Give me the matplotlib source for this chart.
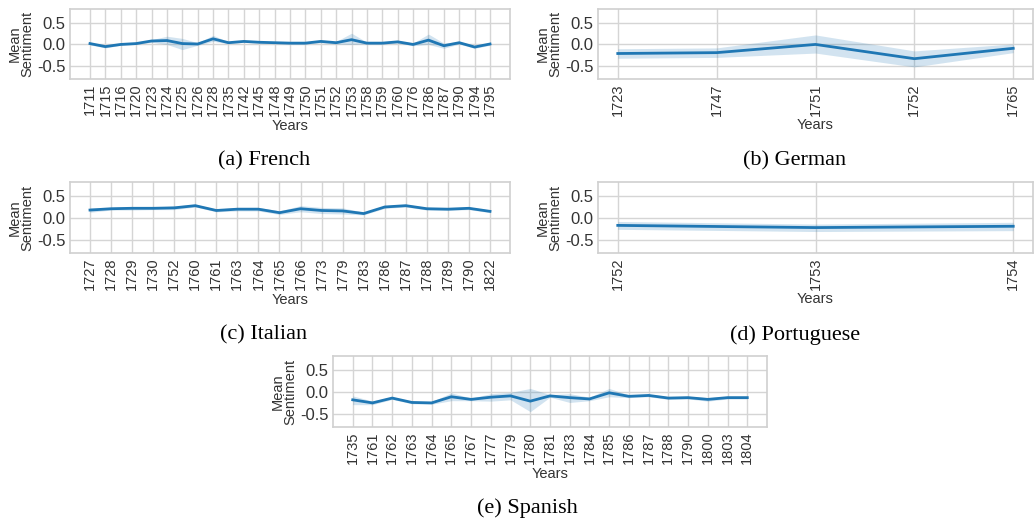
import matplotlib
matplotlib.use("Agg")
import matplotlib.pyplot as plt
import numpy as np

plt.rcParams["font.family"] = ["Liberation Sans", "DejaVu Sans"]

# French
fr_years = ["1711", "1715", "1716", "1720", "1723", "1724", "1725", "1726", "1728",
            "1735", "1742", "1745", "1748", "1749", "1750", "1751", "1752", "1753",
            "1758", "1759", "1760", "1776", "1786", "1787", "1790", "1794", "1795"]
fr_mean = [0.02, -0.05, 0.00, 0.02, 0.08, 0.09, 0.02, 0.01, 0.13,
           0.04, 0.07, 0.05, 0.04, 0.03, 0.03, 0.07, 0.04, 0.11,
           0.03, 0.03, 0.06, 0.00, 0.10, -0.03, 0.04, -0.06, 0.01]
fr_lo = [-0.01, -0.08, -0.02, 0.00, 0.05, 0.00, -0.12, -0.02, 0.07,
         0.02, 0.05, 0.03, 0.02, 0.01, 0.01, 0.04, 0.01, 0.00,
         0.01, 0.01, 0.03, -0.03, 0.00, -0.09, 0.01, -0.09, -0.02]
fr_hi = [0.04, -0.02, 0.02, 0.04, 0.11, 0.19, 0.14, 0.04, 0.21,
         0.06, 0.09, 0.07, 0.06, 0.05, 0.05, 0.10, 0.07, 0.26,
         0.05, 0.05, 0.09, 0.03, 0.24, 0.03, 0.07, -0.03, 0.04]

# German
de_years = ["1723", "1747", "1751", "1752", "1765"]
de_mean = [-0.21, -0.19, 0.00, -0.33, -0.09]
de_lo = [-0.32, -0.30, -0.20, -0.52, -0.19]
de_hi = [-0.10, -0.08, 0.22, -0.15, 0.01]

# Italian
it_years = ["1727", "1728", "1729", "1730", "1752", "1760", "1761", "1763", "1764",
            "1765", "1766", "1773", "1779", "1783", "1786", "1787", "1788", "1789",
            "1790", "1822"]
it_mean = [0.18, 0.21, 0.22, 0.22, 0.23, 0.28, 0.17, 0.20, 0.20,
           0.12, 0.21, 0.17, 0.16, 0.10, 0.25, 0.28, 0.21, 0.20,
           0.22, 0.15]
it_lo = [0.13, 0.18, 0.18, 0.19, 0.19, 0.25, 0.14, 0.16, 0.16,
         0.08, 0.14, 0.10, 0.09, 0.07, 0.22, 0.25, 0.18, 0.17,
         0.19, 0.12]
it_hi = [0.23, 0.24, 0.26, 0.25, 0.27, 0.31, 0.20, 0.24, 0.24,
         0.16, 0.28, 0.24, 0.23, 0.13, 0.28, 0.31, 0.24, 0.23,
         0.25, 0.18]

# Portuguese
pt_years = ["1752", "1753", "1754"]
pt_mean = [-0.17, -0.22, -0.19]
pt_lo = [-0.26, -0.31, -0.29]
pt_hi = [-0.08, -0.14, -0.10]

# Spanish
es_years = ["1735", "1761", "1762", "1763", "1764", "1765", "1767", "1777", "1779",
            "1780", "1781", "1783", "1784", "1785", "1786", "1787", "1788", "1790",
            "1800", "1803", "1804"]
es_mean = [-0.18, -0.25, -0.14, -0.24, -0.25, -0.11, -0.17, -0.12, -0.09,
           -0.21, -0.09, -0.13, -0.16, -0.02, -0.10, -0.08, -0.14, -0.13,
           -0.17, -0.13, -0.13]
es_lo = [-0.29, -0.29, -0.17, -0.27, -0.28, -0.20, -0.20, -0.21, -0.18,
         -0.45, -0.12, -0.24, -0.20, -0.11, -0.13, -0.11, -0.17, -0.16,
         -0.21, -0.16, -0.16]
es_hi = [-0.09, -0.21, -0.11, -0.21, -0.22, -0.02, -0.14, -0.04, -0.01,
         0.08, -0.06, -0.04, -0.12, 0.08, -0.07, -0.05, -0.11, -0.10,
         -0.13, -0.10, -0.10]

panels = [
    ("(a) French", fr_years, fr_mean, fr_lo, fr_hi),
    ("(b) German", de_years, de_mean, de_lo, de_hi),
    ("(c) Italian", it_years, it_mean, it_lo, it_hi),
    ("(d) Portuguese", pt_years, pt_mean, pt_lo, pt_hi),
    ("(e) Spanish", es_years, es_mean, es_lo, es_hi),
]

W, H = 1035, 523
# axes boxes in pixels: left, top, right, bottom
boxes = [
    (70, 9, 510, 79),
    (598, 9, 1033, 79),
    (70, 182, 510, 253),
    (598, 182, 1033, 253),
    (333, 356, 767, 427),
]
# subfigure caption centres in pixels
captions_xy = [(264, 161), (795, 161), (264, 335), (795, 335), (527, 508)]

blue = "#1f77b4"
fig = plt.figure(figsize=(W / 100, H / 100), dpi=100)

for (cap, years, mean, lo, hi), (l, t, r, b), (cx, cy) in zip(panels, boxes, captions_xy):
    ax = fig.add_axes([l / W, 1 - b / H, (r - l) / W, (b - t) / H])
    x = np.arange(len(years))
    ax.fill_between(x, lo, hi, color=blue, alpha=0.2, linewidth=0)
    ax.plot(x, mean, color=blue, linewidth=2)
    ax.set_xticks(x)
    ax.set_xticklabels(years, rotation=90, fontsize=10.5, color="#333333")
    ax.set_xlim(-0.05 * (len(years) - 1), (len(years) - 1) * 1.05)
    ax.set_ylim(-0.8, 0.82)
    ax.set_yticks([-0.5, 0.0, 0.5])
    ax.set_yticklabels(["-0.5", "0.0", "0.5"], fontsize=12, color="#333333")
    ax.set_ylabel("Mean\nSentiment", fontsize=10.5, color="#333333", labelpad=2, linespacing=0.9)
    ax.set_xlabel("Years", fontsize=10.5, color="#333333", labelpad=2)
    ax.grid(True, color="#d5d5d5", linewidth=1)
    ax.set_axisbelow(True)
    ax.tick_params(length=0, pad=3)
    for s in ax.spines.values():
        s.set_color("#d0d0d0")
        s.set_linewidth(1.2)
    fig.text(cx / W, 1 - cy / H, cap, ha="center", va="center",
             fontsize=16, family="Liberation Serif")

fig.savefig("out.png", dpi=100)
